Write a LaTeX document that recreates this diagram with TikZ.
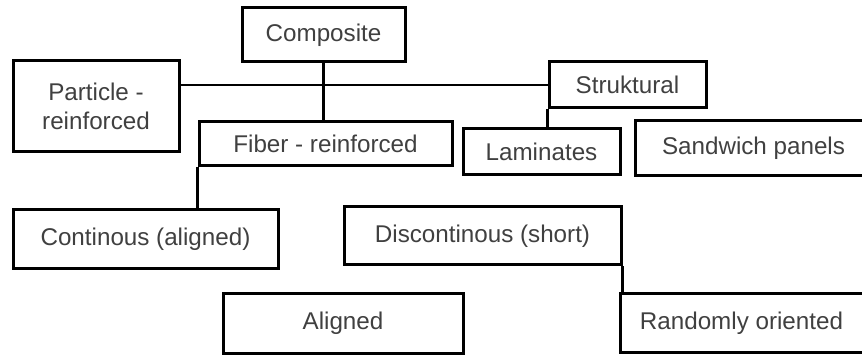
\documentclass[tikz,border=0pt]{standalone}
\usepackage{fontspec}
\setmainfont{Liberation Sans}
\begin{document}
\begin{tikzpicture}[x=1pt,y=-1pt,
  box/.style={draw=black,line width=3pt,rectangle,inner sep=0pt,align=center,
    text=black!75,font=\fontsize{24.2}{29}\selectfont},
  conn/.style={draw=black,line width=2.6pt}]
\useasboundingbox (0,0) rectangle (862,355);
\clip (0,0) rectangle (862,355);
\fill[white] (0,0) rectangle (862,355);
\node[box,minimum width=163pt,minimum height=54pt] (comp) at (323.5,35) {Composite};
\node[box,minimum width=166pt,minimum height=91pt] (part) at (96,106.5) {Particle -\\reinforced};
\node[box,minimum width=253pt,minimum height=44pt] (fiber) at (325.5,144) {Fiber - reinforced};
\node[box,minimum width=157pt,minimum height=46pt] (stru) at (627.5,85) {Struktural};
\node[box,minimum width=157pt,minimum height=46pt] (lam) at (541.5,152) {Laminates};
\node[box,minimum width=237pt,minimum height=55pt] (sand) at (753.5,148.5) {Sandwich panels};
\node[box,minimum width=265pt,minimum height=59pt] (cont) at (145.5,239.5) {Continous (aligned)};
\node[box,minimum width=277pt,minimum height=58pt] (disc) at (482.5,236) {Discontinous (short)};
\node[box,minimum width=240pt,minimum height=59pt] (ali) at (343,323.5) {Aligned};
\node[box,minimum width=243pt,minimum height=58pt] (rand) at (741.5,323) {Randomly oriented};
\draw[conn] (comp.south) -- (comp.south |- fiber.north);
\draw[conn] (part.east |- stru.west) -- (stru.west);
\draw[conn] (stru.south west) -- (stru.south west |- lam.north);
\draw[conn] (fiber.south west) -- (fiber.south west |- cont.north);
\draw[conn] (disc.south east) -- (disc.south east |- rand.north);
\end{tikzpicture}
\end{document}
